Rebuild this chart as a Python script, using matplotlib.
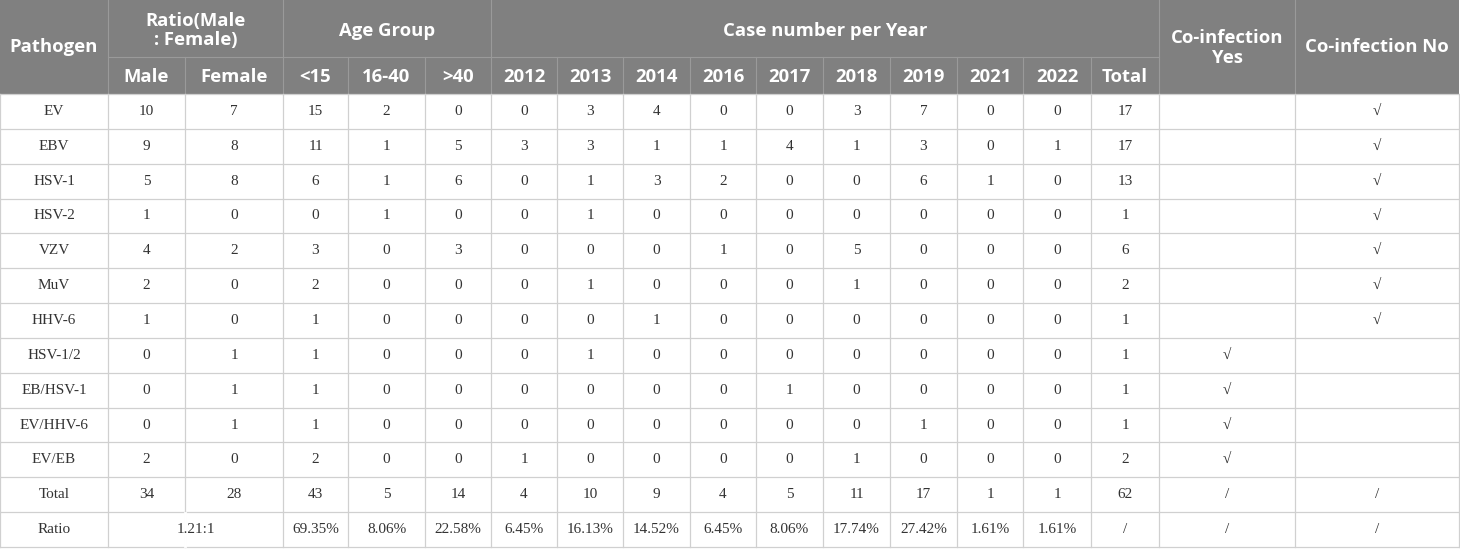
import matplotlib.pyplot as plt
from matplotlib.patches import Rectangle

# table data
pathogens = ['EV', 'EBV', 'HSV-1', 'HSV-2', 'VZV', 'MuV', 'HHV-6',
             'HSV-1/2', 'EB/HSV-1', 'EV/HHV-6', 'EV/EB']
male = [10, 9, 5, 1, 4, 2, 1, 0, 0, 0, 2]
female = [7, 8, 8, 0, 2, 0, 0, 1, 1, 1, 0]
age_lt15 = [15, 11, 6, 0, 3, 2, 1, 1, 1, 1, 2]
age_16_40 = [2, 1, 1, 1, 0, 0, 0, 0, 0, 0, 0]
age_gt40 = [0, 5, 6, 0, 3, 0, 0, 0, 0, 0, 0]
years = ['2012', '2013', '2014', '2016', '2017', '2018', '2019', '2021', '2022']
cases = [
    [0, 3, 4, 0, 0, 3, 7, 0, 0],
    [3, 3, 1, 1, 4, 1, 3, 0, 1],
    [0, 1, 3, 2, 0, 0, 6, 1, 0],
    [0, 1, 0, 0, 0, 0, 0, 0, 0],
    [0, 0, 0, 1, 0, 5, 0, 0, 0],
    [0, 1, 0, 0, 0, 1, 0, 0, 0],
    [0, 0, 1, 0, 0, 0, 0, 0, 0],
    [0, 1, 0, 0, 0, 0, 0, 0, 0],
    [0, 0, 0, 0, 1, 0, 0, 0, 0],
    [0, 0, 0, 0, 0, 0, 1, 0, 0],
    [1, 0, 0, 0, 0, 1, 0, 0, 0],
]
case_total = [17, 17, 13, 1, 6, 2, 1, 1, 1, 1, 2]
coinfection = [False] * 7 + [True] * 4
total_row = ['34', '28', '43', '5', '14', '4', '10', '9', '4', '5', '11',
             '17', '1', '1', '62', '/', '/']
ratio_sex = '1.21:1'
ratio_row = ['69.35%', '8.06%', '22.58%', '6.45%', '16.13%', '14.52%', '6.45%',
             '8.06%', '17.74%', '27.42%', '1.61%', '1.61%', '/', '/', '/']

# layout (pixels)
W, H = 1460, 549
xs = [0, 108, 185, 283, 348, 425, 491, 557, 623, 690, 756, 823, 890, 957,
      1023, 1091, 1159, 1295, 1459]
h1, h2 = 57, 94
body_bottom = 547
nrows = len(pathogens) + 2
rh = (body_bottom - h2) / nrows

head_bg = '#808080'
head_line = '#9a9a9a'
grid = '#d0d0d0'
hfont = dict(family='Open Sans', color='white', fontsize=13.3, fontweight='bold')
bfont = dict(family=['Liberation Serif', 'DejaVu Serif'], color='#333333', fontsize=11)

fig = plt.figure(figsize=(W / 100, H / 100), dpi=100)
ax = fig.add_axes([0, 0, 1, 1])
ax.set_xlim(0, W)
ax.set_ylim(H, 0)
ax.axis('off')

ax.add_patch(Rectangle((0, 0), xs[-1], h2, color=head_bg, lw=0))


def cx(i, j=None):
    j = i + 1 if j is None else j
    return (xs[i] + xs[j]) / 2


# header lines
for i in [1, 3, 6, 16, 17]:
    ax.plot([xs[i], xs[i]], [0, h2], color=head_line, lw=0.8)
for i in [2, 4, 5] + list(range(7, 16)):
    ax.plot([xs[i], xs[i]], [h1, h2], color=head_line, lw=0.8)
ax.plot([xs[1], xs[16]], [h1, h1], color=head_line, lw=0.8)

# header text
ax.text(cx(0), h2 / 2, 'Pathogen', ha='center', va='center', **hfont)
ax.text(cx(1, 3), h1 / 2 + 2, 'Ratio(Male\n: Female)', ha='center', va='center',
        linespacing=1.1, **hfont)
ax.text(cx(3, 6), h1 / 2 + 3, 'Age Group', ha='center', va='center', **hfont)
ax.text(cx(6, 16), h1 / 2 + 3, 'Case number per Year', ha='center', va='center', **hfont)
ax.text(cx(16), 48, 'Co-infection\nYes', ha='center', va='center', linespacing=1.2, **hfont)
ax.text(cx(17), 47, 'Co-infection No', ha='center', va='center', **hfont)
sub = ['Male', 'Female', '<15', '16-40', '>40'] + years + ['Total']
for k, s in enumerate(sub):
    ax.text(cx(k + 1), (h1 + h2) / 2 + 1, s, ha='center', va='center', **hfont)

# body
for r in range(nrows + 1):
    y = h2 + r * rh
    ax.plot([0, xs[-1]], [y, y], color=grid, lw=0.9)
for i, x in enumerate(xs):
    ax.plot([x, x], [h2, body_bottom], color=grid, lw=0.9)

for r, name in enumerate(pathogens):
    yc = h2 + (r + 0.5) * rh
    vals = [name, male[r], female[r], age_lt15[r], age_16_40[r], age_gt40[r]] \
        + cases[r] + [case_total[r]]
    for k, v in enumerate(vals):
        ax.text(cx(k), yc, str(v), ha='center', va='center', **bfont)
    col = 16 if coinfection[r] else 17
    ax.text(cx(col), yc, '\u221a', ha='center', va='center', **bfont)

yc = h2 + (nrows - 1.5) * rh
ax.text(cx(0), yc, 'Total', ha='center', va='center', **bfont)
for k, v in enumerate(total_row):
    ax.text(cx(k + 1), yc, v, ha='center', va='center', **bfont)

yc = h2 + (nrows - 0.5) * rh
# merged Male/Female cell in the ratio row: cover the divider
ax.plot([xs[2], xs[2]], [yc - rh / 2 + 1, yc + rh / 2 - 1], color='white', lw=2)
ax.text(cx(0), yc, 'Ratio', ha='center', va='center', **bfont)
ax.text(cx(1, 3), yc, ratio_sex, ha='center', va='center', **bfont)
for k, v in enumerate(ratio_row):
    ax.text(cx(k + 3), yc, v, ha='center', va='center', **bfont)

fig.savefig('out.png', dpi=100, facecolor='white')
